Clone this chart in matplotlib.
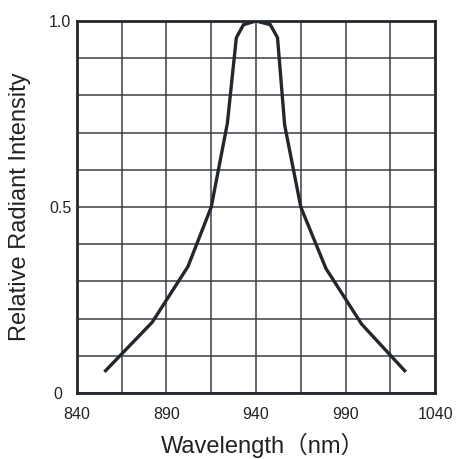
import numpy as np
import matplotlib
matplotlib.use('Agg')
from matplotlib import pyplot as plt
from matplotlib.transforms import ScaledTranslation

# spectrum
wavelength = [856, 882, 902, 915, 924, 929, 933, 940, 948, 952, 956, 965, 979, 999, 1023]
intensity = [0.06, 0.19, 0.34, 0.50, 0.725, 0.955, 0.99, 1.0, 0.99, 0.955, 0.72, 0.50, 0.335, 0.185, 0.06]

xticks = [840, 890, 940, 990, 1040]
yticks = [0, 0.5, 1.0]
yticklabels = ['0', '0.5', '1.0']

plt.rcParams['font.family'] = ['Liberation Sans', 'Noto Sans CJK SC', 'DejaVu Sans']

fig = plt.figure(figsize=(4.58, 4.59), dpi=100)
ax = fig.add_axes([0.168, 0.1438, 0.782, 0.8105])

# grid every 25 nm and every 0.1
for gx in np.arange(840, 1041, 25):
    ax.axvline(gx, color='#3a3f45', lw=1.1, zorder=1)
for gy in np.arange(0, 1.01, 0.1):
    ax.axhline(gy, color='#3a3f45', lw=1.1, zorder=1)

ax.plot(wavelength, intensity, color='#22272d', lw=2.4, zorder=3,
        solid_joinstyle='miter')

ax.set_xlim(840, 1040)
ax.set_ylim(0, 1.0)
ax.set_xticks(xticks)
ax.set_yticks(yticks)
ax.set_yticklabels(yticklabels)
ax.tick_params(length=0, labelsize=11.5, colors='#222222')
ax.tick_params(axis='x', pad=10)
ax.tick_params(axis='y', pad=4)

# the "0" label sits a bit further left in the original
lab0 = ax.get_yticklabels()[0]
lab0.set_transform(lab0.get_transform() + ScaledTranslation(-0.09, 0, fig.dpi_scale_trans))

for s in ax.spines.values():
    s.set_linewidth(2.0)
    s.set_color('#22272d')
    s.set_zorder(4)

ax.set_xlabel('Wavelength（nm）', fontsize=17, color='#222222', labelpad=8)
ax.xaxis.label.set_x(0.52)
ax.set_ylabel('Relative Radiant Intensity', fontsize=17, color='#222222', labelpad=13)

plt.savefig('out.png', dpi=100)
plt.close()
